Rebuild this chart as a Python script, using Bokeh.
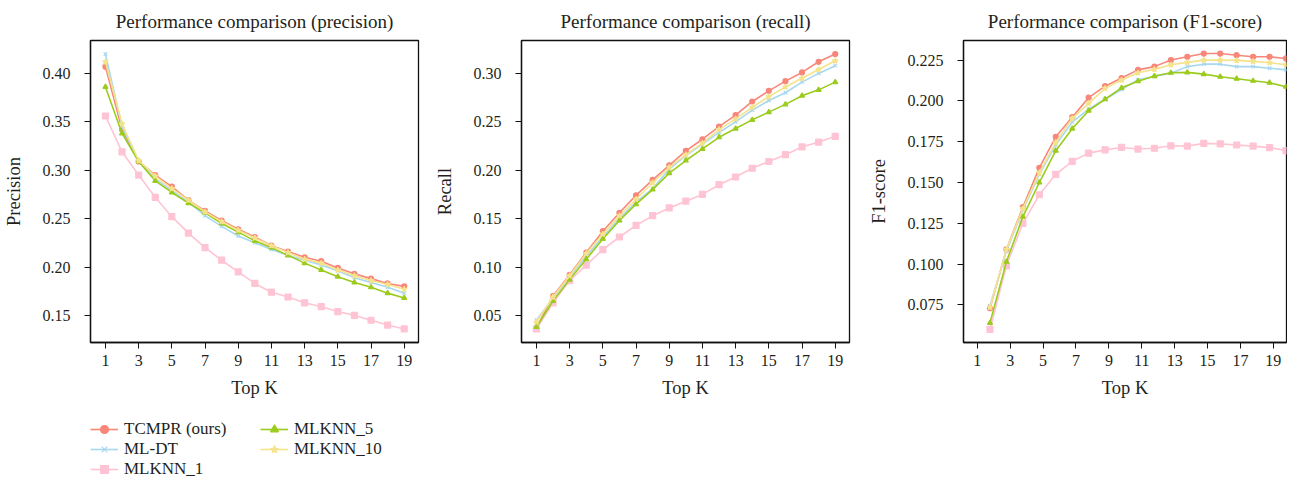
from bokeh.plotting import figure
from bokeh.layouts import row, column
from bokeh.models import Range1d, FixedTicker, Legend, LegendItem, NumeralTickFormatter
from bokeh.embed import file_html
from bokeh.resources import INLINE

# ---------------- data ----------------
top_k = list(range(1, 20))
# F1 points are drawn slightly left of the integer ticks in the reference
f1_x = [1.77, 2.77, 3.77, 4.77, 5.77, 6.77, 7.77, 8.77, 9.77, 10.77,
        11.77, 12.77, 13.77, 14.77, 15.77, 16.77, 17.77, 18.77, 19.77]

series_names = ["TCMPR (ours)", "ML-DT", "MLKNN_1", "MLKNN_5", "MLKNN_10"]
x_ticks = [1, 3, 5, 7, 9, 11, 13, 15, 17, 19]

prec_tcmpr = [0.407, 0.342, 0.309, 0.295, 0.283, 0.269, 0.258, 0.248, 0.239, 0.231,
              0.222, 0.216, 0.210, 0.206, 0.199, 0.193, 0.188, 0.183, 0.180]
prec_mldt = [0.420, 0.345, 0.309, 0.291, 0.279, 0.267, 0.253, 0.242, 0.232, 0.225,
             0.218, 0.212, 0.207, 0.202, 0.196, 0.189, 0.184, 0.179, 0.173]
prec_mlknn1 = [0.356, 0.319, 0.295, 0.272, 0.252, 0.235, 0.220, 0.207, 0.195, 0.183,
               0.174, 0.169, 0.163, 0.159, 0.154, 0.150, 0.145, 0.140, 0.136]
prec_mlknn5 = [0.386, 0.338, 0.309, 0.289, 0.277, 0.266, 0.256, 0.245, 0.236, 0.227,
               0.220, 0.212, 0.204, 0.197, 0.190, 0.184, 0.179, 0.173, 0.168]
prec_mlknn10 = [0.412, 0.348, 0.310, 0.294, 0.281, 0.269, 0.257, 0.247, 0.238, 0.230,
                0.222, 0.215, 0.208, 0.204, 0.197, 0.191, 0.186, 0.182, 0.177]

rec_tcmpr = [0.037, 0.070, 0.092, 0.115, 0.137, 0.156, 0.174, 0.190, 0.205, 0.220,
             0.232, 0.245, 0.257, 0.271, 0.282, 0.292, 0.301, 0.312, 0.320]
rec_mldt = [0.045, 0.068, 0.090, 0.111, 0.131, 0.150, 0.167, 0.181, 0.201, 0.215,
            0.227, 0.239, 0.250, 0.262, 0.272, 0.280, 0.291, 0.300, 0.308]
rec_mlknn1 = [0.036, 0.063, 0.086, 0.102, 0.118, 0.131, 0.143, 0.153, 0.161, 0.168,
              0.175, 0.185, 0.193, 0.202, 0.209, 0.216, 0.224, 0.229, 0.235]
rec_mlknn5 = [0.038, 0.065, 0.087, 0.108, 0.129, 0.148, 0.165, 0.180, 0.197, 0.210,
              0.222, 0.234, 0.243, 0.252, 0.260, 0.268, 0.277, 0.283, 0.291]
rec_mlknn10 = [0.043, 0.069, 0.091, 0.114, 0.134, 0.153, 0.170, 0.187, 0.203, 0.216,
               0.228, 0.242, 0.253, 0.265, 0.276, 0.286, 0.295, 0.304, 0.313]

f1_tcmpr = [0.073, 0.109, 0.135, 0.159, 0.178, 0.190, 0.202, 0.209, 0.214, 0.219,
            0.221, 0.225, 0.227, 0.229, 0.229, 0.228, 0.227, 0.227, 0.226]
f1_mldt = [0.0745, 0.108, 0.133, 0.155, 0.173, 0.187, 0.195, 0.201, 0.207, 0.213,
           0.215, 0.217, 0.221, 0.2225, 0.2225, 0.221, 0.221, 0.220, 0.219]
f1_mlknn1 = [0.060, 0.099, 0.125, 0.1425, 0.155, 0.163, 0.168, 0.170, 0.1715, 0.1705,
             0.171, 0.1725, 0.1723, 0.174, 0.1737, 0.173, 0.1723, 0.1714, 0.1696]
f1_mlknn5 = [0.064, 0.1015, 0.129, 0.150, 0.1695, 0.183, 0.194, 0.201, 0.208, 0.212,
             0.2152, 0.2172, 0.2175, 0.2164, 0.2148, 0.2136, 0.2123, 0.2111, 0.2087]
f1_mlknn10 = [0.0735, 0.109, 0.134, 0.156, 0.1745, 0.1893, 0.1985, 0.2077, 0.2128, 0.2172,
              0.2193, 0.2221, 0.2236, 0.225, 0.225, 0.2248, 0.2242, 0.2234, 0.2221]

prec_ticks = [0.15, 0.20, 0.25, 0.30, 0.35, 0.40]
rec_ticks = [0.05, 0.10, 0.15, 0.20, 0.25, 0.30]
f1_ticks = [0.075, 0.100, 0.125, 0.150, 0.175, 0.200, 0.225]

# ---------------- styles ----------------
colors = ["#F8877A", "#A8D8F0", "#FFC4D4", "#9BCB1C", "#F5E38C"]
markers = ["circle", "x", "square", "triangle", "star"]
msizes = [5, 5, 6, 5, 6]
FONT = "Liberation Serif"
TXT = "#231f20"


def make_fig(title, ylabel, ys, xs, xr, yr, yticks, fmt, frame_w, left, right):
    p = figure(frame_width=frame_w, frame_height=302, x_range=xr, y_range=yr,
               output_backend="svg", toolbar_location=None,
               min_border_left=left, min_border_right=right,
               min_border_top=0, min_border_bottom=0)
    p.title.text = title
    p.title.align = "center"
    p.title.text_font = FONT
    p.title.text_font_size = "19px"
    p.title.text_font_style = "normal"
    p.title.text_color = TXT
    p.title.standoff = 17
    p.xgrid.visible = False
    p.ygrid.visible = False
    p.outline_line_color = "#111111"
    p.outline_line_width = 1.3
    p.outline_line_alpha = 1.0
    p.xaxis.ticker = FixedTicker(ticks=x_ticks)
    p.yaxis.ticker = FixedTicker(ticks=yticks)
    p.yaxis.formatter = NumeralTickFormatter(format=fmt)
    p.xaxis.axis_label = "Top K"
    p.yaxis.axis_label = ylabel
    for ax in (p.xaxis[0], p.yaxis[0]):
        ax.axis_line_color = "#111111"
        ax.axis_line_width = 1.3
        ax.major_tick_line_color = "#111111"
        ax.major_tick_out = 6
        ax.major_tick_in = 0
        ax.minor_tick_out = 0
        ax.minor_tick_in = 0
        ax.major_label_text_font = FONT
        ax.major_label_text_font_size = "16px"
        ax.major_label_text_color = TXT
        ax.axis_label_text_font = FONT
        ax.axis_label_text_font_size = "18.5px"
        ax.axis_label_text_font_style = "normal"
        ax.axis_label_text_color = TXT
    p.yaxis.major_label_standoff = 14
    p.yaxis.axis_label_standoff = 16
    p.xaxis.major_label_standoff = 6
    p.xaxis.axis_label_standoff = 9
    for vals, c, m, s in zip(ys, colors, markers, msizes):
        p.line(xs, vals, line_color=c, line_width=1.6)
        p.scatter(xs, vals, marker=m, size=s, fill_color=c, line_color=c, line_width=1.2)
    return p


p1 = make_fig("Performance comparison (precision)", "Precision",
              [prec_tcmpr, prec_mldt, prec_mlknn1, prec_mlknn5, prec_mlknn10],
              top_k, Range1d(0.1, 19.86), Range1d(0.122, 0.434),
              prec_ticks, "0.00", 328, 82, 10)
p2 = make_fig("Performance comparison (recall)", "Recall",
              [rec_tcmpr, rec_mldt, rec_mlknn1, rec_mlknn5, rec_mlknn10],
              top_k, Range1d(0.1, 19.86), Range1d(0.022, 0.334),
              rec_ticks, "0.00", 328, 93, 10)
p3 = make_fig("Performance comparison (F1-score)", "F1-score",
              [f1_tcmpr, f1_mldt, f1_mlknn1, f1_mlknn5, f1_mlknn10],
              f1_x, Range1d(0.16, 19.8), Range1d(0.052, 0.237),
              f1_ticks, "0.000", 323, 104, 1)

# ---------------- legend strip under the first panel ----------------
# the strip's ranges lie outside the data, so only the legend keys show
pl = figure(width=420, height=79, output_backend="svg", toolbar_location=None,
            x_range=Range1d(-5, -4), y_range=Range1d(-5, -4),
            x_axis_location=None, y_axis_location=None, min_border=0)
pl.grid.visible = False
pl.outline_line_color = None
items = []
for name, vals, c, m, s in zip(series_names,
                               [prec_tcmpr, prec_mldt, prec_mlknn1, prec_mlknn5, prec_mlknn10],
                               colors, markers, msizes):
    lr = pl.line(top_k, vals, line_color=c, line_width=1.6)
    sr = pl.scatter(top_k, vals, marker=m, size=s, fill_color=c, line_color=c, line_width=1.2)
    items.append(LegendItem(label=name, renderers=[lr, sr]))

legend = Legend(items=items, location=(0, 0), orientation="vertical", nrows=3,
                margin=0, padding=0, spacing=0, glyph_width=28, glyph_height=20,
                label_height=20, label_width=136, label_standoff=6,
                label_text_font=FONT, label_text_font_size="17px", label_text_color=TXT,
                border_line_color=None, background_fill_alpha=0)
pl.add_layout(legend, "center")

layout = row(column(p1, pl), p2, p3)
open("out.html", "w").write(file_html(layout, INLINE))
